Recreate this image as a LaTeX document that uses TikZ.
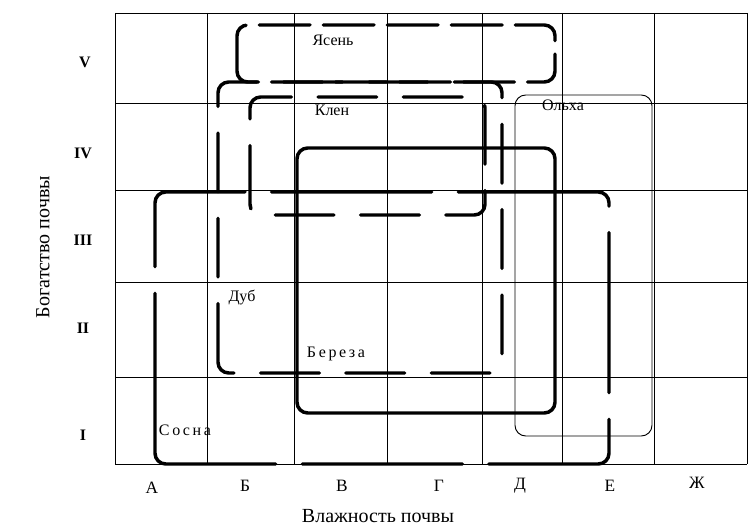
\documentclass[tikz,border=0pt]{standalone}
\usepackage{fontspec}
\setmainfont{Liberation Serif}
\begin{document}
\begin{tikzpicture}[x=0.75pt,y=-0.75pt,
  gridline/.style={line width=0.6pt,black},
  dashbox/.style={line width=2.6pt,rounded corners=8pt,line cap=round},
  solidbox/.style={line width=2.6pt,rounded corners=8pt},
  thinbox/.style={line width=0.7pt,rounded corners=8pt},
  lab/.style={font=\fontsize{12}{14}\selectfont,inner sep=0pt},
  collab/.style={font=\fontsize{13}{15}\selectfont,inner sep=0pt},
  rowlab/.style={font=\bfseries\fontsize{12}{14}\selectfont,inner sep=0pt},
  axislab/.style={font=\fontsize{15}{17}\selectfont,inner sep=0pt}]
\useasboundingbox[fill=white] (0,0) rectangle (754,527);
% grid
\foreach \xx in {115,207,294,387,482,562,654,747}
  \draw[gridline] (\xx,13) -- (\xx,464);
\foreach \yy in {13,103,190,282,377,464}
  \draw[gridline] (115,\yy) -- (747,\yy);
% Ясень
\draw[dashbox,dash pattern=on 38pt off 10pt] (237,82) -- (237,25) -- (555,25) -- (555,82) -- cycle;
% Дуб
\draw[dashbox,dash pattern=on 44pt off 20pt] (218,373) -- (218,82) -- (502,82) -- (502,373) -- cycle;
% Клен
\draw[dashbox,dash pattern=on 44pt off 20pt] (250,215) -- (250,97) -- (485,97) -- (485,215) -- cycle;
% Береза
\draw[solidbox] (297,148) rectangle (555,413);
% Сосна
\draw[dashbox,dash pattern=on 120pt off 20pt] (155,464) -- (155,192) -- (609,192) -- (609,464) -- cycle;
% Ольха
\draw[thinbox] (515,95) rectangle (652,436);
% labels
\node[lab] (yasen) at (333,40) {Ясень};
\node[lab] (klen) at (332,110) {Клен};
\node[lab] (olkha) at (563,105) {Ольха};
\node[lab] (dub) at (242,298) {Дуб};
\node[lab] (bereza) at (336,354) {Б\,е\,р\,е\,з\,а};
\node[lab] (sosna) at (185,430) {С\,о\,с\,н\,а};
% column labels
\node[collab] (cA) at (152,488) {А};
\node[collab] (cB) at (245,486) {Б};
\node[collab] (cV) at (342,486) {В};
\node[collab] (cG) at (439,486) {Г};
\node[collab] (cD) at (520,486) {Д};
\node[collab] (cE) at (610,486) {Е};
\node[collab] (cZh) at (697,483) {Ж};
% row labels
\node[rowlab] (r5) at (85,62) {V};
\node[rowlab] (r4) at (83,153) {IV};
\node[rowlab] (r3) at (83,240) {III};
\node[rowlab] (r2) at (83,328) {II};
\node[rowlab] (r1) at (83,435) {I};
% axis labels
\node[axislab,rotate=90] (ylab) at (43,247) {Богатство почвы};
\node[axislab] (xlab) at (378,516) {Влажность почвы};
\end{tikzpicture}
\end{document}
